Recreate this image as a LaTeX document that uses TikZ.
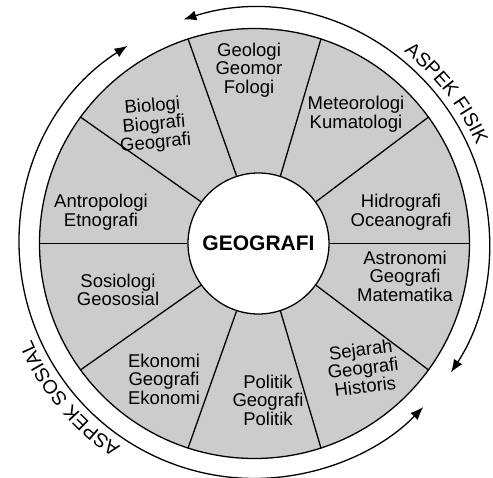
\documentclass[tikz,border=0pt]{standalone}
\usepackage{fontspec}
\setmainfont{Liberation Sans}
\usetikzlibrary{arrows.meta,decorations.text}
\definecolor{sektor}{gray}{0.8}
\newcommand{\ilmufont}{\fontsize{18.5}{18.5}\selectfont}
\newcommand{\aspekfont}{\fontsize{19.5}{19.5}\selectfont}

\begin{document}
\begin{tikzpicture}[x=1pt,y=1pt,line width=1.3pt,
	ilmu/.style={align=center,font=\ilmufont,inner sep=0pt},
	panah/.style={{Latex[length=13pt,width=10pt]}-{Latex[length=13pt,width=10pt]}},
	aspek/.style={decorate,decoration={text along path,text align=center,text={|\aspekfont|#1}}}]

	\useasboundingbox (-254.5,-233.5) rectangle (238.5,243.5);

	% roda abu-abu dan lingkaran inti
	\node[circle,draw,fill=sektor,minimum size=430,inner sep=0pt] (roda) at (0,0) {};
	\node[circle,draw,fill=white,minimum size=141,inner sep=0pt,font=\bfseries\fontsize{21}{21}\selectfont] (inti) at (4,0) {GEOGRAFI};

	\foreach \a in {0,36,...,324}
		\draw (inti.\a) -- (roda.\a);

	% cabang ilmu
	\node[ilmu] (geologi) at (-5.5,173.5) {Geologi\\Geomor\\Fologi};
	\node[ilmu] (meteorologi) at (101.5,129.5) {Meteorologi\\Kumatologi};
	\node[ilmu] (hidrografi) at (146.5,31.5) {Hidrografi\\Oceanografi};
	\node[ilmu] (astronomi) at (150.5,-32.5) {Astronomi\\Geografi\\Matematika};
	\node[ilmu,rotate=7] (sejarah) at (108.5,-124.5) {Sejarah\\Geografi\\Historis};
	\node[ilmu] (politik) at (13.5,-156.5) {Politik\\Geografi\\Politik};
	\node[ilmu] (ekonomi) at (-90.5,-135.5) {Ekonomi\\Geografi\\Ekonomi};
	\node[ilmu] (sosiologi) at (-136.5,-46.5) {Sosiologi\\Geososial};
	\node[ilmu] (antropologi) at (-153.5,31.5) {Antropologi\\Etnografi};
	\node[ilmu,rotate=5] (biologi) at (-100.5,118.5) {Biologi\\Biografi\\Geografi};

	% busur aspek
	\coordinate (fisik1) at (107.6:235);
	\coordinate (sosial1) at (122.7:235);
	\draw[panah] (fisik1) arc[start angle=107.6,end angle=-33.3,radius=235];
	\draw[panah] (sosial1) arc[start angle=122.7,end angle=315.9,radius=235];

	\path[aspek=ASPEK FISIK] (70:243) arc[start angle=70,end angle=6,radius=243];
	\path[aspek=ASPEK SOSIAL] (252:243) arc[start angle=252,end angle=188,radius=243];

\end{tikzpicture}
\end{document}
